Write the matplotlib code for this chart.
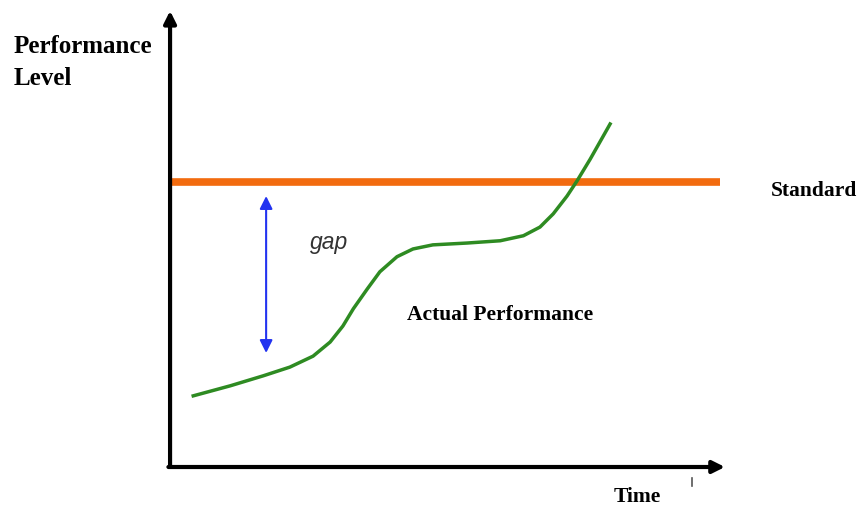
import matplotlib
matplotlib.use("Agg")
import matplotlib.pyplot as plt

# actual performance over time (time 0-100, level 0-100)
time = [4.2, 10.9, 16.9, 21.7, 25.9, 29.0, 31.3, 33.2, 35.7, 38.0, 41.1, 44.0, 47.6,
        53.8, 59.8, 64.0, 67.0, 69.4, 71.9, 73.7, 76.1, 79.7]
actual = [15.6, 17.8, 20.0, 21.9, 24.3, 27.4, 30.9, 34.7, 39.0, 42.8, 46.1, 47.8, 48.7,
          49.1, 49.6, 50.7, 52.6, 55.5, 59.4, 62.7, 67.5, 75.2]
standard = 62.5
gap_time = 17.4
gap_range = [25.0, 59.4]

fig = plt.figure(figsize=(8.58, 5.06), dpi=100)
ax = fig.add_axes([0, 0, 1, 1])
ax.set_xlim(-30.8, 124.6)
ax.set_ylim(-8.33, 102.6)
ax.axis("off")

serif = "Liberation Serif"

# axes with arrows
ax.annotate("", xy=(0, 100.0), xytext=(0, 0),
            arrowprops=dict(arrowstyle="-|>", lw=3, color="black", mutation_scale=18,
                            shrinkA=0, shrinkB=0))
ax.annotate("", xy=(100.5, 0), xytext=(-0.3, 0),
            arrowprops=dict(arrowstyle="-|>", lw=3, color="black", mutation_scale=18,
                            shrinkA=0, shrinkB=0))
ax.plot([94.6, 94.6], [-2.4, -4.2], color="#555555", lw=1.2)

# standard line and actual performance
ax.plot([-0.4, 99.6], [standard, standard], color="#F26B0F", lw=5.5, solid_capstyle="butt")
ax.plot(time, actual, color="#2E8B22", lw=2.5, solid_joinstyle="round")

# gap arrow
ax.annotate("", xy=(gap_time, gap_range[0]), xytext=(gap_time, gap_range[1]),
            arrowprops=dict(arrowstyle="<|-|>", lw=1.5, color="#2233F0", mutation_scale=19,
                            shrinkA=0, shrinkB=0))

ax.text(-28.3, 88.9, "Performance\nLevel", fontsize=18, fontweight="bold", family=serif,
        ha="left", va="center", linespacing=1.55)
ax.text(108.8, 60.7, "Standard", fontsize=15.5, fontweight="bold", family=serif,
        ha="left", va="center")
ax.text(84.6, -6.4, "Time", fontsize=15.5, fontweight="bold", family=serif,
        ha="center", va="center")
ax.text(43.0, 33.5, "Actual Performance", fontsize=15.5, fontweight="bold", family=serif,
        ha="left", va="center")
ax.text(25.4, 49.5, "gap", fontsize=16.5, style="italic", family="Liberation Sans",
        color="#333333", ha="left", va="center")

fig.savefig("out.png", dpi=100)
